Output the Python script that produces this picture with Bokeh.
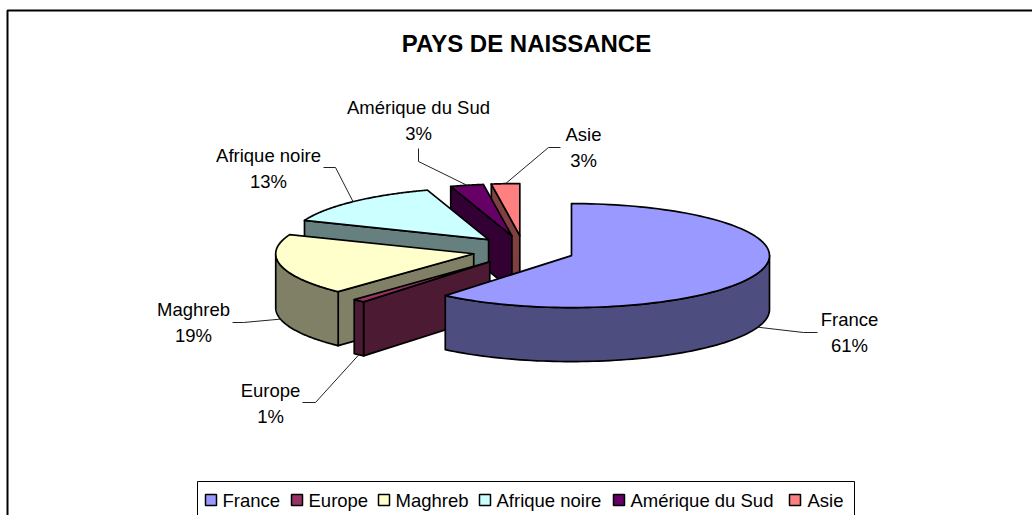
import numpy as np
from bokeh.plotting import figure
from bokeh.models import Range1d
from bokeh.core.properties import value
from bokeh.embed import file_html
from bokeh.resources import INLINE

# ---- data ----
categories = ["France", "Europe", "Maghreb", "Afrique noire", "Amérique du Sud", "Asie"]
shares = [61.0, 1.0, 19.0, 14.0, 2.7, 2.3]
pct_labels = ["61%", "1%", "19%", "13%", "3%", "3%"]
top_colors = ["#9999FF", "#993366", "#FFFFCC", "#CCFFFF", "#660066", "#FF8080"]
side_colors = ["#4D4D80", "#4D1A33", "#808066", "#668080", "#330033", "#804040"]

# ---- layout ----
PX0, PX1, PY0, PY1 = 0, 1032, 0, 515   # page pixels covered by the figure
CX, CY = 523, 250                      # pie centre before explosion
A, B = 198, 52                         # rim ellipse
EA, EB = 51, 15                        # explosion
DEPTH = 54
FONT = value("Liberation Sans")
LABEL_PX = "18.5px"
label_x = [849, 270, 193, 268, 418, 583]
label_y = [319, 390, 309, 155, 107, 134]
elbow_x = [[817, 803], [302, 315], [232, 243], [323, 335], [418, 418], [560, 548]]
elbow_y = [[332, 332], [402, 402], [322, 322], [167, 167], [148, 161], [147, 147]]
legend_sq_x = [205, 291, 378, 479, 613, 789]
legend_tx_x = [222, 308, 395, 496, 630, 807]

p = figure(width=PX1 - PX0, height=PY1 - PY0, output_backend="svg", toolbar_location=None,
           x_range=Range1d(PX0, PX1), y_range=Range1d(PY1, PY0),
           min_border=0, outline_line_color=None, background_fill_color="white")
p.axis.visible = False
p.grid.visible = False

# outer chart border (runs off the page at right and bottom)
p.line([7, 7, PX1], [PY1, 10, 10], line_color="black", line_width=2)

p.text([526], [43], text=["PAYS DE NAISSANCE"], text_font=FONT, text_font_style="bold",
       text_font_size="24px", text_align="center", text_baseline="middle", text_color="black")

# ---- exploded 3-D pie, computed from the shares ----
edges = np.cumsum([0.0] + shares) / sum(shares) * 360.0


def rim(cx, cy, deg):
    t = np.radians(deg)
    return cx + A * np.sin(t), cy - B * np.cos(t)


slices = []
for i in range(len(shares)):
    t1, t2 = edges[i], edges[i + 1]
    mid = np.radians((t1 + t2) / 2)
    cx = CX + EA * np.sin(mid)
    cy = CY - EB * np.cos(mid)
    slices.append((i, t1, t2, cx, cy, mid))

STYLE = dict(line_color="black", line_width=1.7, line_join="round")

# back slices first so the front ones cover them
for i, t1, t2, cx, cy, mid in reversed(slices):
    # radial wall visible at the start edge of a slice on the left half
    if np.sin(np.radians(t1)) < -1e-9:
        x, y = rim(cx, cy, t1)
        p.patch([cx, x, x, cx], [cy, y, y + DEPTH, cy + DEPTH], fill_color=side_colors[i], **STYLE)
    # outer wall for the part of the rim that faces the viewer
    a1, a2 = max(t1, 90.0), min(t2, 270.0)
    if a2 > a1:
        x, y = rim(cx, cy, np.linspace(a1, a2, 80))
        p.patch(np.r_[x, x[::-1]], np.r_[y, y[::-1] + DEPTH], fill_color=side_colors[i], **STYLE)
    # top face
    x, y = rim(cx, cy, np.linspace(t1, t2, 120))
    p.patch(np.r_[cx, x], np.r_[cy, y], fill_color=top_colors[i], **STYLE)

# ---- leader lines and data labels ----
for i, t1, t2, cx, cy, mid in slices:
    x, y = rim(cx, cy, np.degrees(mid))
    if np.cos(mid) < 0:
        y = y + DEPTH
    p.line(elbow_x[i] + [x], elbow_y[i] + [y], line_color="#222222", line_width=1)
    p.text([label_x[i]], [label_y[i]], text=[categories[i]], text_font=FONT, text_font_size=LABEL_PX,
           text_align="center", text_baseline="middle", text_color="black")
    p.text([label_x[i]], [label_y[i] + 26], text=[pct_labels[i]], text_font=FONT, text_font_size=LABEL_PX,
           text_align="center", text_baseline="middle", text_color="black")

# ---- legend ----
p.line([197, 197, 854, 854], [PY1, 481, 481, PY1], line_color="black", line_width=1)
for i, name in enumerate(categories):
    p.quad(left=[legend_sq_x[i]], right=[legend_sq_x[i] + 11], top=[494], bottom=[505],
           fill_color=top_colors[i], line_color="black", line_width=1.5)
    p.text([legend_tx_x[i]], [500], text=[name], text_font=FONT, text_font_size=LABEL_PX,
           text_align="left", text_baseline="middle", text_color="black")

open("out.html", "w").write(file_html(p, INLINE))
